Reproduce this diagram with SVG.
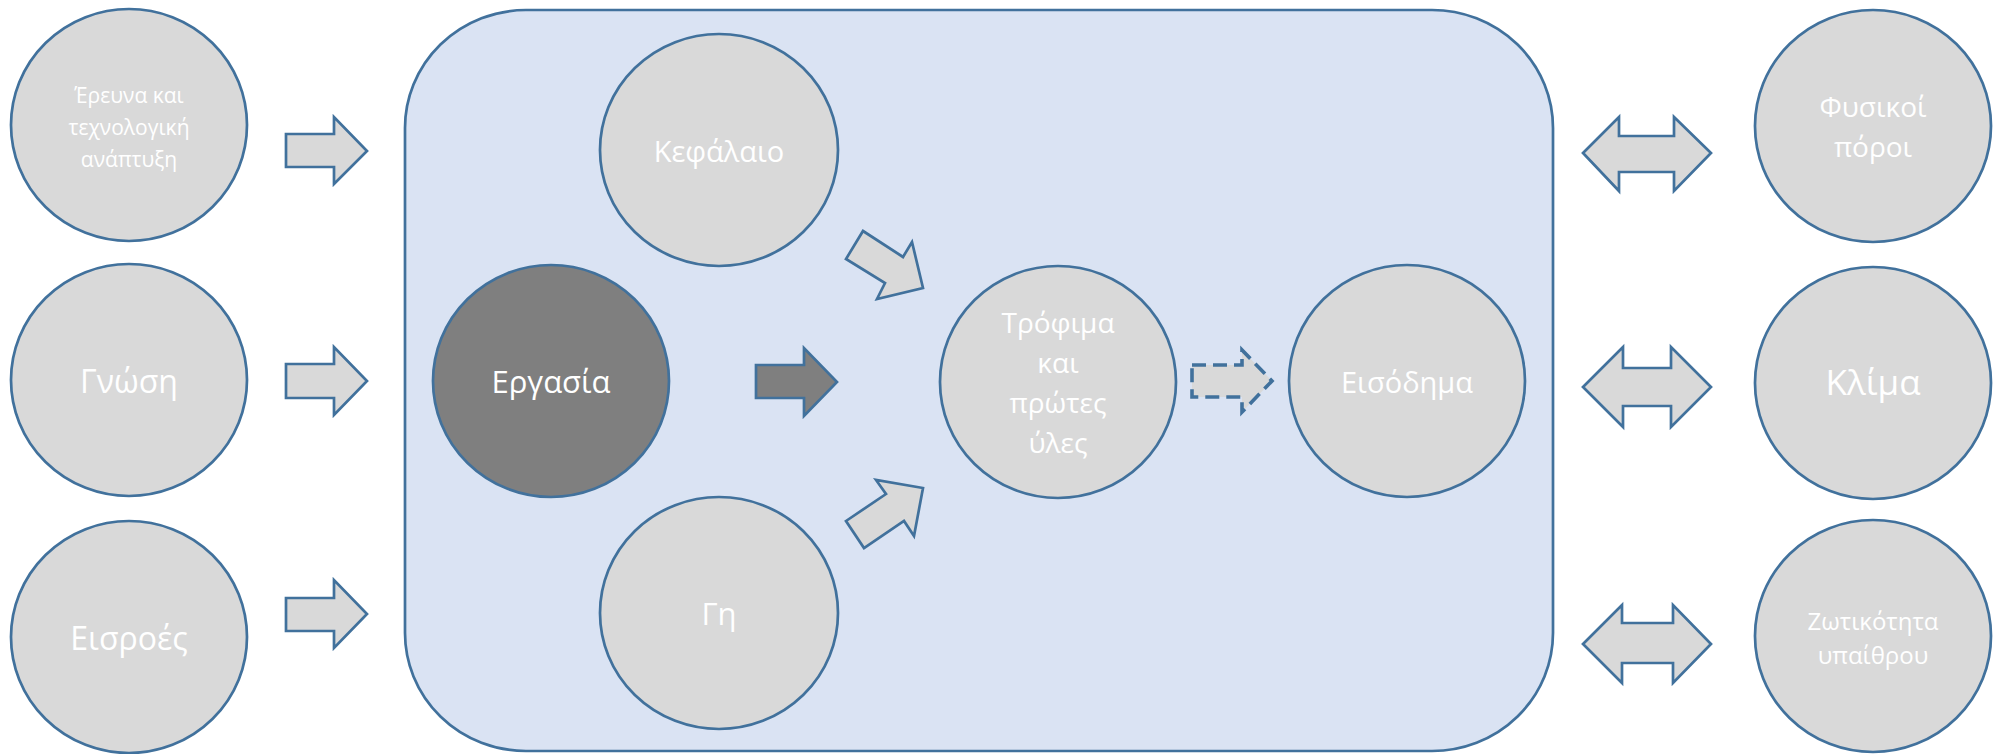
<svg xmlns="http://www.w3.org/2000/svg" width="1999" height="754" viewBox="0 0 1999 754">
<style>
.c{fill:#d9d9d9;stroke:#41719c;stroke-width:2.7}
.d{fill:#7f7f7f;stroke:#41719c;stroke-width:2.7}
.a{fill:#d9d9d9;stroke:#41719c;stroke-width:2.7;stroke-linejoin:miter}
.ad{fill:#7f7f7f;stroke:#41719c;stroke-width:2.7}
.dash{fill:#d9d9d9;stroke:#41719c;stroke-width:3.6;stroke-dasharray:14 7}
text{font-family:"Open Sans","Noto Sans","DejaVu Sans",sans-serif;fill:#ffffff;text-anchor:middle}
</style>
<rect id="container" x="405" y="10" width="1148" height="741" rx="121" ry="118" fill="#dae3f3" stroke="#41719c" stroke-width="2.7"/>
<g id="research"><ellipse class="c" cx="129" cy="125" rx="118" ry="116"/><text font-size="21"><tspan x="129" y="103">Έρευνα και</tspan><tspan x="129" y="135">τεχνολογική</tspan><tspan x="129" y="167">ανάπτυξη</tspan></text></g>
<g id="knowledge"><ellipse class="c" cx="129" cy="380" rx="118" ry="116"/><text x="129" y="393" font-size="32">Γνώση</text></g>
<g id="inputs"><ellipse class="c" cx="129" cy="637" rx="118" ry="116"/><text x="129" y="650" font-size="32">Εισροές</text></g>
<g id="capital"><ellipse class="c" cx="719" cy="150" rx="119" ry="116"/><text x="719" y="162" font-size="29">Κεφάλαιο</text></g>
<g id="labour"><ellipse class="d" cx="551" cy="381" rx="118" ry="116"/><text x="551" y="393" font-size="31">Εργασία</text></g>
<g id="land"><ellipse class="c" cx="719" cy="613" rx="119" ry="116"/><text x="719" y="625" font-size="31">Γη</text></g>
<g id="food"><ellipse class="c" cx="1058" cy="382" rx="118" ry="116"/><text font-size="28"><tspan x="1058" y="333">Τρόφιμα</tspan><tspan x="1058" y="373">και</tspan><tspan x="1058" y="413">πρώτες</tspan><tspan x="1058" y="453">ύλες</tspan></text></g>
<g id="income"><ellipse class="c" cx="1407" cy="381" rx="118" ry="116"/><text x="1407" y="393" font-size="29">Εισόδημα</text></g>
<g id="natural"><ellipse class="c" cx="1873" cy="126" rx="118" ry="116"/><text font-size="28"><tspan x="1873" y="117">Φυσικοί</tspan><tspan x="1873" y="157">πόροι</tspan></text></g>
<g id="climate"><ellipse class="c" cx="1873" cy="383" rx="118" ry="116"/><text x="1873" y="395" font-size="35">Κλίμα</text></g>
<g id="vitality"><ellipse class="c" cx="1873" cy="636" rx="118" ry="116"/><text font-size="24"><tspan x="1873" y="630">Ζωτικότητα</tspan><tspan x="1873" y="664">υπαίθρου</tspan></text></g>
<g id="connectors">
<polygon class="a" points="286,134 334,134 334,117 367,151 334,184 334,167 286,167"/>
<polygon class="a" points="286,364 334,364 334,347 367,381 334,415 334,398 286,398"/>
<polygon class="a" points="286,598 334,598 334,580 367,614 334,648 334,631 286,631"/>
<polygon class="a" points="863,231 903,257 912,242 923,288 877,299 885,283 846,259"/>
<polygon class="a" points="846,521 886,494 876,480 923,488 914,536 904,521 864,548"/>
<polygon class="ad" points="756,365 804,365 804,348 837,382 804,416 804,398 756,398"/>
<polygon class="dash" points="1192,365 1242,365 1242,350 1272,381 1242,412 1242,397 1192,397"/>
<polygon class="a" points="1583,153 1619,117 1619,136 1674,136 1674,117 1711,153 1674,191 1674,172 1619,172 1619,191"/>
<polygon class="a" points="1583,387 1623,347 1623,368 1671,368 1671,347 1711,387 1671,427 1671,406 1623,406 1623,427"/>
<polygon class="a" points="1583,644 1622,605 1622,623 1673,623 1673,605 1711,644 1673,683 1673,663 1622,663 1622,683"/>
</g>
</svg>
